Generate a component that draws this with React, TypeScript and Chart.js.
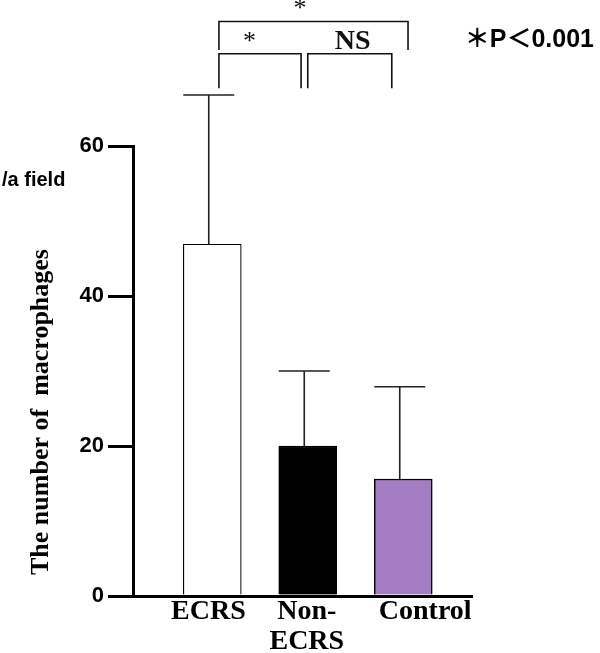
import React, { useEffect, useRef } from "react";
import { Chart, registerables } from "chart.js";

Chart.register(...registerables);

const categories: (string | string[])[] = ["ECRS", ["Non-", "ECRS"], "Control"];
const means = [46.9, 20.0, 15.6];
const errors = [19.9, 10.0, 12.3];
const barColors = ["#ffffff", "#000000", "#a57dc5"];
const yTicks = [0, 20, 40, 60];
const yTitle = "The number of  macrophages";
const unitLabel = "/a field";
const pNote = "＊P＜0.001";

// label placement shifts (category index units)
const labelShift = [-0.04, -0.01, 0.23];

// significance brackets: x in category index units, y in data units
const brackets = [
  { x1: 0.07, x2: 0.93, top: 72.3, endL: 67.7, endR: 67.7 },
  { x1: 1.0, x2: 1.88, top: 72.3, endL: 67.7, endR: 67.7 },
  { x1: 0.07, x2: 2.05, top: 76.6, endL: 72.8, endR: 72.8 },
];
const sigLabels = [
  { text: "*", x: 0.39, y: 73.9, font: "26px 'Liberation Serif', serif" },
  { text: "NS", x: 1.47, y: 73.9, font: "bold 28px 'Liberation Serif', serif" },
  { text: "*", x: 0.92, y: 78.2, font: "26px 'Liberation Serif', serif" },
];

const overlayPlugin = {
  id: "overlay",
  afterDatasetsDraw(chart: any) {
    const { ctx } = chart;
    const xs = chart.scales.x;
    const ys = chart.scales.y;
    const meta = chart.getDatasetMeta(0);
    ctx.save();
    // error bars
    ctx.strokeStyle = "#222";
    ctx.lineWidth = 1.6;
    meta.data.forEach((el: any, i: number) => {
      const x = el.x - 3.5;
      const yTop = ys.getPixelForValue(means[i] + errors[i]);
      ctx.beginPath();
      ctx.moveTo(x, el.y);
      ctx.lineTo(x, yTop);
      ctx.moveTo(x - 25.5, yTop);
      ctx.lineTo(x + 25.5, yTop);
      ctx.stroke();
    });
    // brackets
    ctx.strokeStyle = "#111";
    ctx.lineWidth = 1.6;
    brackets.forEach((b) => {
      const x1 = xs.getPixelForValue(b.x1);
      const x2 = xs.getPixelForValue(b.x2);
      const t = ys.getPixelForValue(b.top);
      ctx.beginPath();
      ctx.moveTo(x1, ys.getPixelForValue(b.endL));
      ctx.lineTo(x1, t);
      ctx.lineTo(x2, t);
      ctx.lineTo(x2, ys.getPixelForValue(b.endR));
      ctx.stroke();
    });
    ctx.fillStyle = "#111";
    ctx.textAlign = "center";
    ctx.textBaseline = "middle";
    sigLabels.forEach((s) => {
      ctx.font = s.font;
      ctx.fillText(s.text, xs.getPixelForValue(s.x), ys.getPixelForValue(s.y));
    });
    // p-value note
    ctx.font = "bold 25px 'Liberation Sans', 'Noto Sans CJK JP', sans-serif";
    ctx.textAlign = "right";
    ctx.fillStyle = "#000";
    ctx.fillText(pNote, 594, 40);
    // unit label
    ctx.font = "bold 20px 'Liberation Sans', sans-serif";
    ctx.textAlign = "left";
    ctx.fillText(unitLabel, 2, 180);
    // y title
    ctx.translate(41, 412);
    ctx.rotate(-Math.PI / 2);
    ctx.textAlign = "center";
    ctx.font = "bold 26px 'Liberation Serif', serif";
    ctx.fillText(yTitle, 0, 0);
    ctx.restore();
  },
};

export default function App() {
  const ref = useRef<HTMLCanvasElement | null>(null);
  useEffect(() => {
    if (!ref.current) return;
    const chart = new Chart(ref.current, {
      type: "bar",
      data: {
        datasets: [
          {
            data: means.map((m, i) => ({ x: i, y: m })),
            backgroundColor: barColors,
            borderColor: "#000",
            borderWidth: [1.2, 1.5, 1.5],
            barThickness: 58,
            borderSkipped: "start",
          } as any,
        ],
      },
      options: {
        responsive: false,
        animation: false,
        devicePixelRatio: 1,
        layout: { padding: { top: 146, right: 128, left: 0, bottom: 0 } },
        plugins: { legend: { display: false }, tooltip: { enabled: false } },
        scales: {
          x: {
            type: "linear",
            offset: false,
            min: -0.83,
            max: 2.72,
            afterFit: (s: any) => {
              s.height = 57;
            },
            afterBuildTicks: (s: any) => {
              s.ticks = categories.map((_, i) => ({ value: i + labelShift[i] }));
            },
            grid: { display: false, drawTicks: false, offset: false },
            border: { display: true, color: "#000", width: 3 },
            ticks: {
              padding: 0,
              color: "#000",
              maxRotation: 0,
              autoSkip: false,
              font: { family: "'Liberation Serif', serif", weight: "bold", size: 28, lineHeight: 1.1 },
              callback: (_v: any, i: number) => categories[i] ?? "",
            },
          },
          y: {
            min: 0,
            max: 60,
            afterFit: (s: any) => {
              s.width = 133;
            },
            afterBuildTicks: (s: any) => {
              s.ticks = yTicks.map((v) => ({ value: v }));
            },
            grid: {
              drawOnChartArea: false,
              drawTicks: true,
              tickLength: 25,
              color: "#000",
              lineWidth: 3,
            },
            border: { display: true, color: "#000", width: 3 },
            ticks: {
              padding: 4,
              color: "#000",
              font: { family: "'Liberation Sans', sans-serif", weight: "bold", size: 22 },
            },
          },
        },
      },
      plugins: [overlayPlugin],
    } as any);
    return () => chart.destroy();
  }, []);
  return (
    <div style={{ position: "fixed", left: 0, top: 0, width: 600, height: 653, background: "#fff" }}>
      <canvas ref={ref} width={600} height={653} />
    </div>
  );
}
